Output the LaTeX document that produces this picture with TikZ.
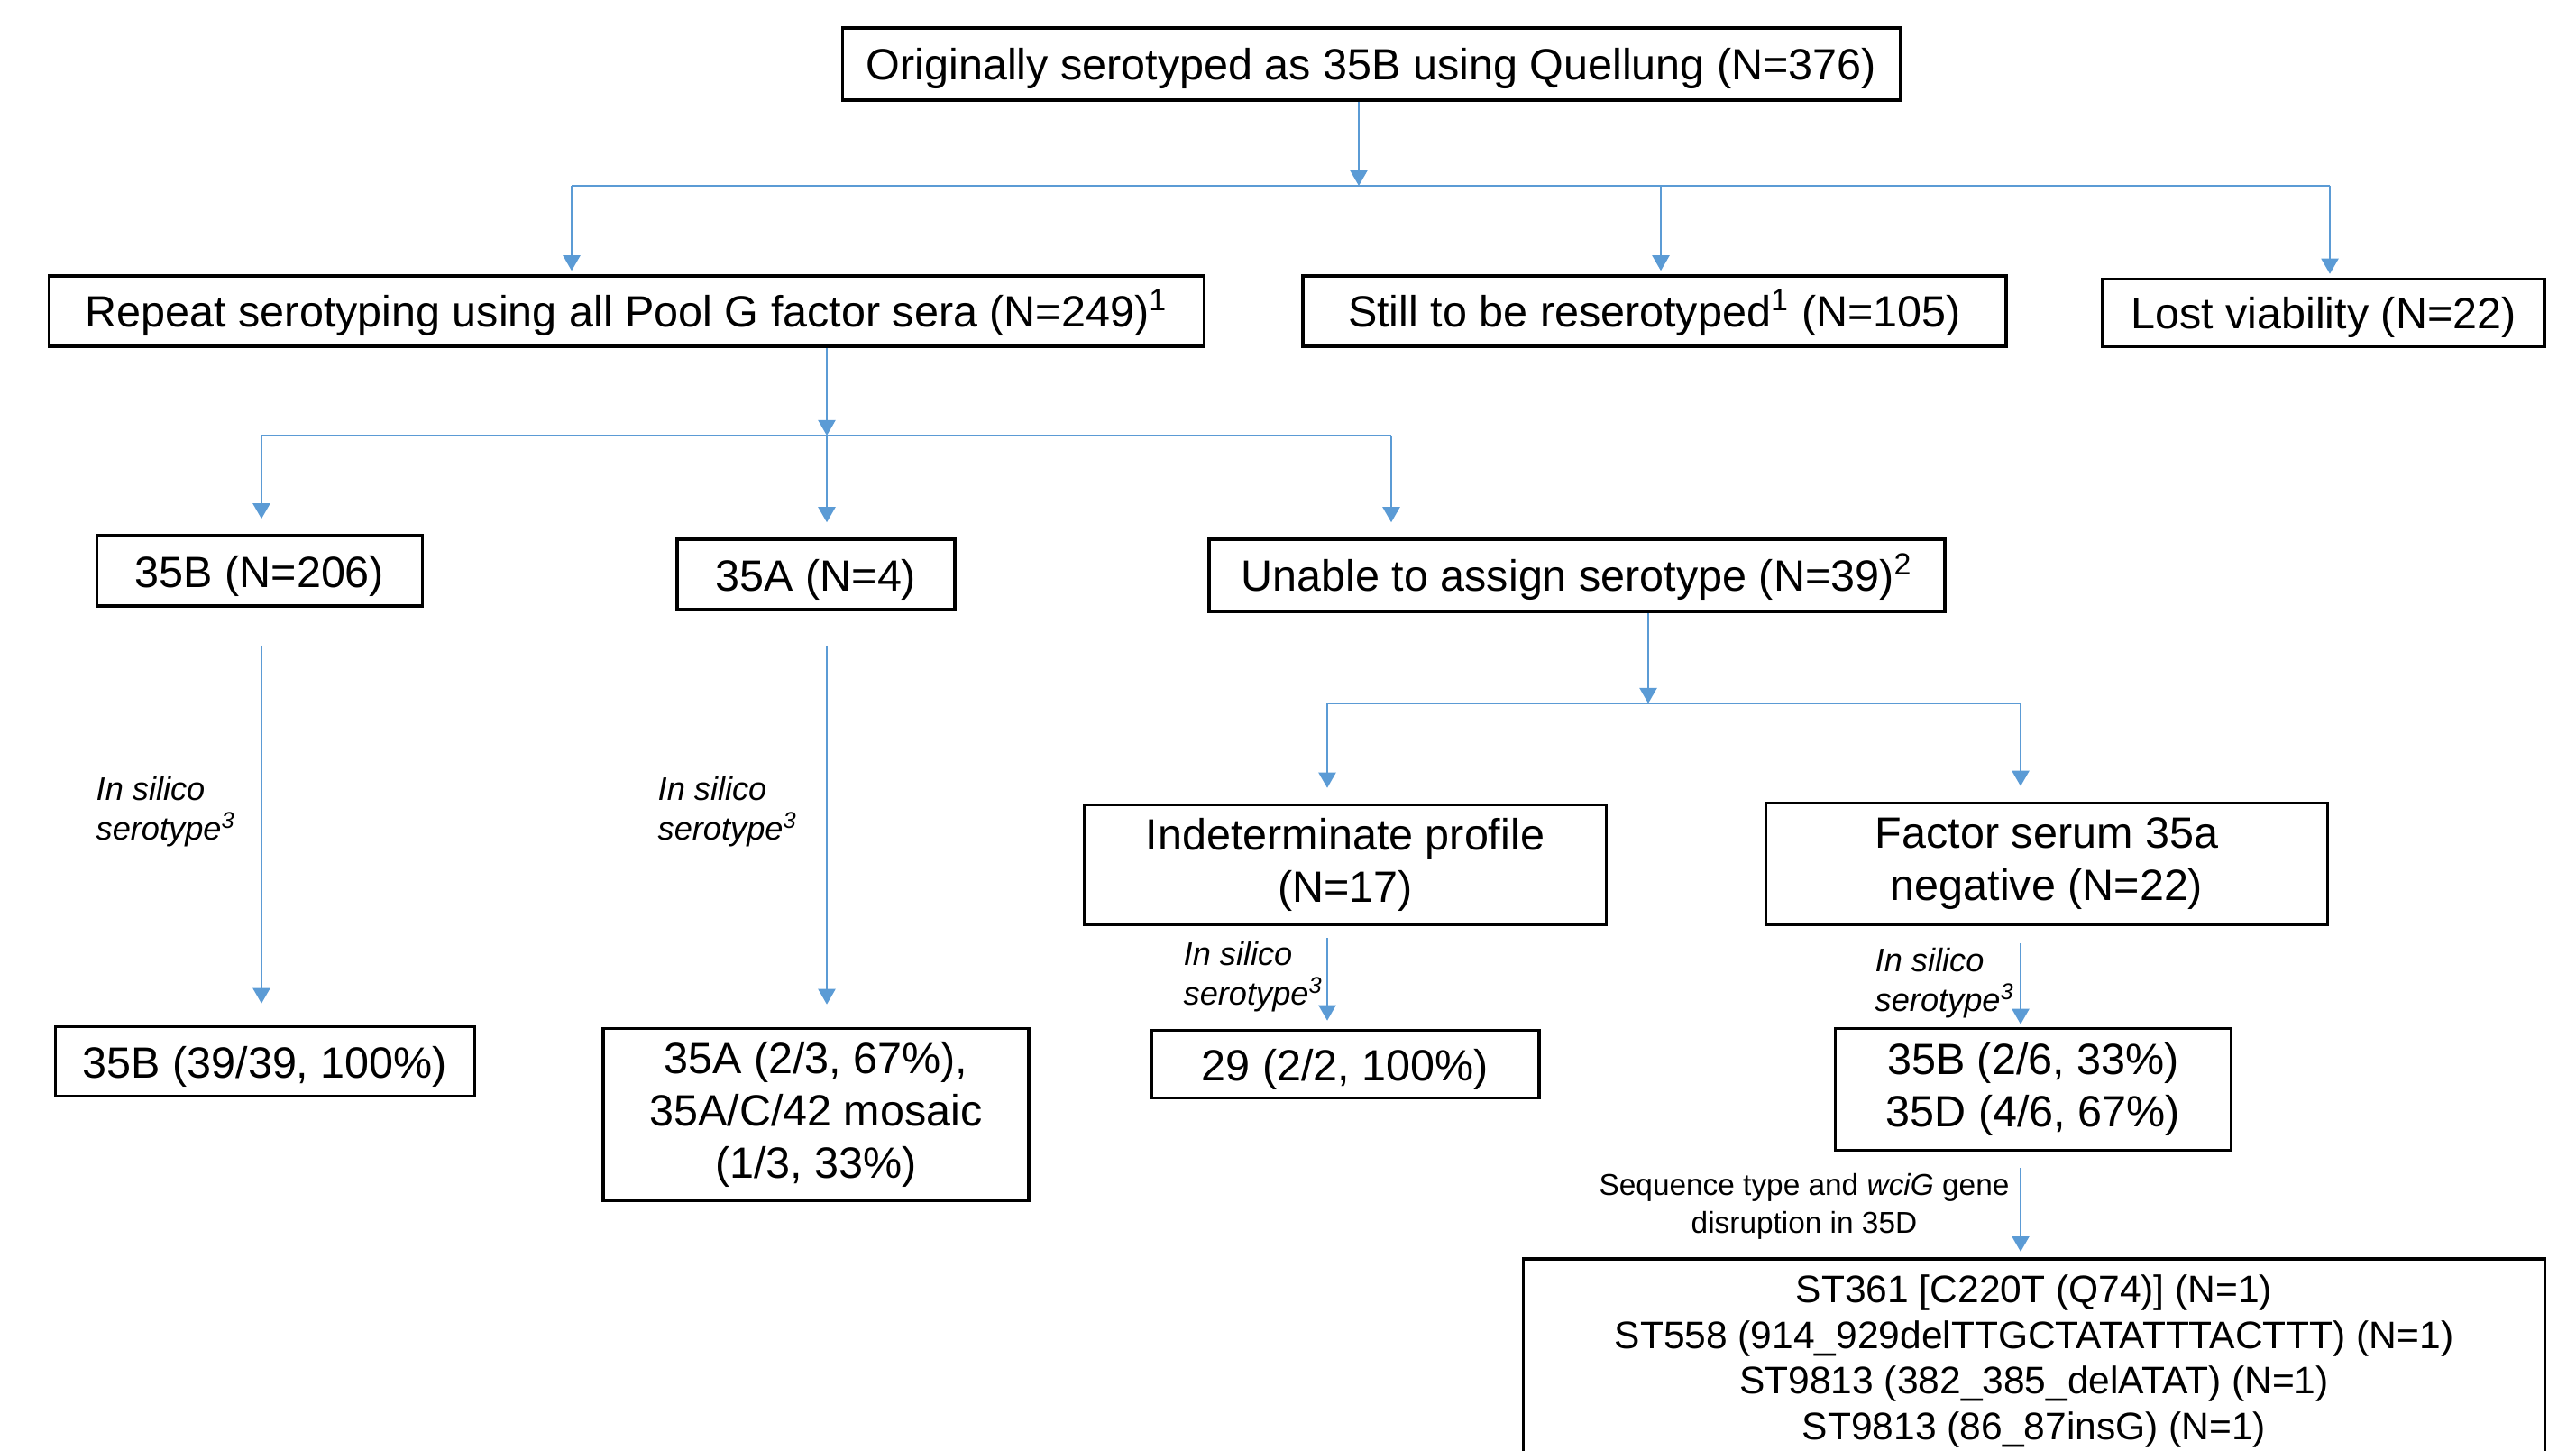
\documentclass[tikz,border=0pt]{standalone}
\usepackage{fontspec}
\setmainfont{Liberation Sans}
\usetikzlibrary{arrows.meta}
\definecolor{linkblue}{HTML}{5B9BD5}

\begin{document}
\begin{tikzpicture}[
	box/.style={draw, line width=1pt, inner sep=0pt, align=center, font=\fontsize{13.8}{16.5}\selectfont, execute at begin node={\rule{0pt}{0.95em}}},
	link/.style={draw=linkblue, line width=0.6pt, -{Triangle[length=1.7mm, width=1.9mm]}},
	bus/.style={draw=linkblue, line width=0.6pt},
	note/.style={inner sep=0pt, anchor=west, align=left, font=\fontsize{10.3}{12.6}\selectfont\itshape}
]
\clip (0, 0) rectangle (28.57, -16.09);

% boxes
\node[box, minimum width=11.73cm, minimum height=0.80cm] (root) at (15.21, -0.71) {Originally serotyped as 35B using Quellung (N=376)};
\node[box, minimum width=12.81cm, minimum height=0.78cm] (repeat) at (6.95, -3.45) {Repeat serotyping using all Pool G factor sera (N=249)\textsuperscript{1}};
\node[box, minimum width=7.80cm, minimum height=0.78cm] (still) at (18.35, -3.45) {Still to be reserotyped\textsuperscript{1} (N=105)};
\node[box, minimum width=4.90cm, minimum height=0.75cm] (lost) at (25.77, -3.47) {Lost viability (N=22)};
\node[box, minimum width=3.61cm, minimum height=0.78cm] (sb) at (2.88, -6.33) {35B (N=206)};
\node[box, minimum width=3.08cm, minimum height=0.78cm] (sa) at (9.05, -6.37) {35A (N=4)};
\node[box, minimum width=8.16cm, minimum height=0.80cm] (unable) at (17.49, -6.38) {Unable to assign serotype (N=39)\textsuperscript{2}};
\node[box, minimum width=5.79cm, minimum height=1.33cm] (indet) at (14.92, -9.59) {Indeterminate profile\\(N=17)};
\node[box, minimum width=6.23cm, minimum height=1.35cm] (factor) at (22.70, -9.58) {Factor serum 35a\\negative (N=22)};
\node[box, minimum width=4.65cm, minimum height=0.77cm] (resb) at (2.94, -11.77) {35B (39/39, 100\%)};
\node[box, minimum width=4.72cm, minimum height=1.91cm] (resa) at (9.05, -12.36) {35A (2/3, 67\%),\\35A/C/42 mosaic\\(1/3, 33\%)};
\node[box, minimum width=4.30cm, minimum height=0.75cm] (resind) at (14.92, -11.80) {29 (2/2, 100\%)};
\node[box, minimum width=4.39cm, minimum height=1.35cm] (resfac) at (22.55, -12.08) {35B (2/6, 33\%)\\35D (4/6, 67\%)};
\node[box, anchor=north, minimum width=11.33cm, inner ysep=0.175cm, font=\fontsize{12.1}{14.5}\selectfont] (seqtype) at (22.56, -13.94) {ST361 [C220T (Q74)] (N=1)\\ST558 (914\_929delTTGCTATATTTACTTT) (N=1)\\ST9813 (382\_385\_delATAT) (N=1)\\ST9813 (86\_87insG) (N=1)};

% labels on the arrows
\node[note] (notesb) at (1.06, -9.00) {In silico\\serotype\textsuperscript{3}};
\node[note] (notesa) at (7.29, -9.00) {In silico\\serotype\textsuperscript{3}};
\node[note] (noteind) at (13.12, -10.83) {In silico\\serotype\textsuperscript{3}};
\node[note] (notefac) at (20.79, -10.90) {In silico\\serotype\textsuperscript{3}};
\node[inner sep=0pt, align=center, font=\fontsize{9.5}{12}\selectfont] (noteseq) at (20.01, -13.38) {Sequence type and \textit{wciG} gene\\disruption in 35D};

% junctions
\coordinate (busa) at (15.07, -2.06);
\coordinate (busal) at (6.34, -2.06);
\coordinate (busam) at (18.42, -2.06);
\coordinate (busar) at (25.84, -2.06);
\coordinate (busb) at (9.17, -4.83);
\coordinate (busbl) at (2.90, -4.83);
\coordinate (busbr) at (15.43, -4.83);
\coordinate (busc) at (18.28, -7.80);
\coordinate (buscl) at (14.72, -7.80);
\coordinate (buscr) at (22.41, -7.80);

% connectors
\draw[link] (root.south -| busa) -- (busa);
\draw[bus] (busal) -- (busar);
\foreach \drop/\target in {busal/repeat, busam/still, busar/lost} {
	\draw[link, shorten >=0.04cm] (\drop) -- (\drop |- \target.north);
	};
\draw[link] (repeat.south -| busb) -- (busb);
\draw[bus] (busbl) -- (busbr);
\foreach \drop/\target in {busbl/sb, busb/sa, busbr/unable} {
	\draw[link, shorten >=0.17cm] (\drop) -- (\drop |- \target.north);
	};
\draw[link] (unable.south -| busc) -- (busc);
\draw[bus] (buscl) -- (buscr);
\foreach \drop/\target in {buscl/indet, buscr/factor} {
	\draw[link, shorten >=0.17cm] (\drop) -- (\drop |- \target.north);
	};
\draw[link, shorten <=0.42cm, shorten >=0.24cm] (sb.south -| busbl) -- (busbl |- resb.north);
\draw[link, shorten <=0.38cm, shorten >=0.25cm] (sa.south -| busb) -- (busb |- resa.north);
\draw[link, shorten <=0.13cm, shorten >=0.09cm] (indet.south -| buscl) -- (buscl |- resind.north);
\draw[link, shorten <=0.19cm, shorten >=0.03cm] (factor.south -| buscr) -- (buscr |- resfac.north);
\draw[link, shorten <=0.18cm, shorten >=0.06cm] (resfac.south -| buscr) -- (buscr |- seqtype.north);
\end{tikzpicture}
\end{document}
